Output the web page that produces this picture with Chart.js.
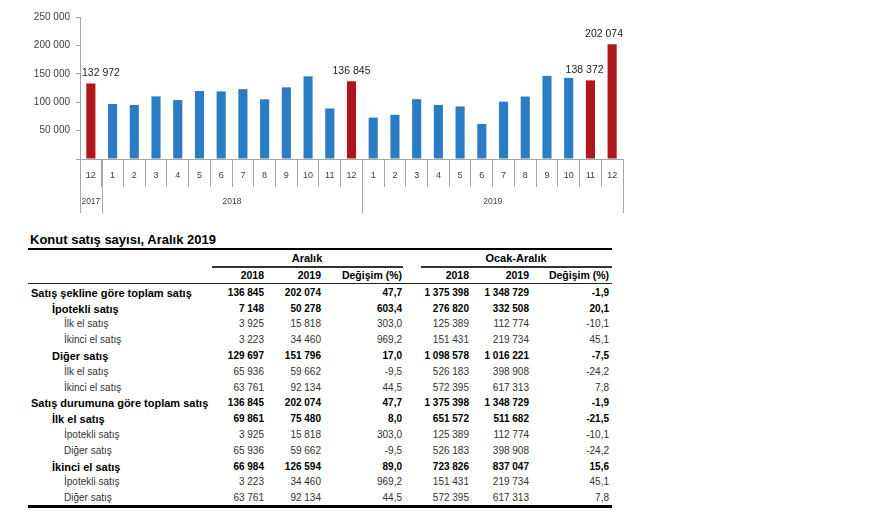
<!DOCTYPE html>
<html>
<head>
<meta charset="utf-8">
<script src="https://cdn.jsdelivr.net/npm/chart.js@4.4.1/dist/chart.umd.min.js"></script>
<style>
  html, body { margin: 0; padding: 0; background: #fff; }
  body { width: 880px; height: 520px; position: relative; overflow: hidden;
         font-family: "Liberation Sans", Arial, sans-serif; color: #000; }
  #chartBox { position: absolute; left: 0; top: 0; width: 640px; height: 222px; }
  .t { position: absolute; white-space: nowrap; line-height: 16px; height: 16px; }
  .r { text-align: right; width: 120px; }
  .c { text-align: center; width: 200px; }
  .b { font-weight: bold; }
  .rule { position: absolute; background: #000; }
</style>
</head>
<body>
<div id="chartBox"><canvas id="salesChart"></canvas></div>
<div id="table"></div>
<script>
// aylık konut satışları
const months = ["12", "1", "2", "3", "4", "5", "6", "7", "8", "9", "10", "11", "12",
                "1", "2", "3", "4", "5", "6", "7", "8", "9", "10", "11", "12"];
const sales = [132972, 96854, 95143, 110199, 103853, 119679, 119009, 122963, 105072, 126122, 145554, 88990, 136845,
               72937, 77849, 105394, 95223, 92571, 61630, 100999, 109935, 146366, 142883, 138372, 202074];
const highlighted = [0, 12, 23, 24];
const years = [
  { label: "2017", from: 0, to: 0 },
  { label: "2018", from: 1, to: 12 },
  { label: "2019", from: 13, to: 24 },
];
const yTicks = [0, 50000, 100000, 150000, 200000, 250000];

// tablo
const tableTitle = "Konut satış sayısı, Aralık 2019";
const groupHeaders = ["Aralık", "Ocak-Aralık"];
const colHeaders = ["2018", "2019", "Değişim (%)", "2018", "2019", "Değişim (%)"];
const tableRows = [
  ["Satış şekline göre toplam satış", 0, "136 845", "202 074", "47,7", "1 375 398", "1 348 729", "-1,9"],
  ["İpotekli satış", 1, "7 148", "50 278", "603,4", "276 820", "332 508", "20,1"],
  ["İlk el satış", 2, "3 925", "15 818", "303,0", "125 389", "112 774", "-10,1"],
  ["İkinci el satış", 2, "3 223", "34 460", "969,2", "151 431", "219 734", "45,1"],
  ["Diğer satış", 1, "129 697", "151 796", "17,0", "1 098 578", "1 016 221", "-7,5"],
  ["İlk el satış", 2, "65 936", "59 662", "-9,5", "526 183", "398 908", "-24,2"],
  ["İkinci el satış", 2, "63 761", "92 134", "44,5", "572 395", "617 313", "7,8"],
  ["Satış durumuna göre toplam satış", 0, "136 845", "202 074", "47,7", "1 375 398", "1 348 729", "-1,9"],
  ["İlk el satış", 1, "69 861", "75 480", "8,0", "651 572", "511 682", "-21,5"],
  ["İpotekli satış", 2, "3 925", "15 818", "303,0", "125 389", "112 774", "-10,1"],
  ["Diğer satış", 2, "65 936", "59 662", "-9,5", "526 183", "398 908", "-24,2"],
  ["İkinci el satış", 1, "66 984", "126 594", "89,0", "723 826", "837 047", "15,6"],
  ["İpotekli satış", 2, "3 223", "34 460", "969,2", "151 431", "219 734", "45,1"],
  ["Diğer satış", 2, "63 761", "92 134", "44,5", "572 395", "617 313", "7,8"],
];

const BLUE = "#2b7cc4";
const RED = "#b0171b";
const LINE = "#a6a6a6";
const FONT = "'Liberation Sans', Arial, sans-serif";

const fmt = v => String(v).replace(/\B(?=(\d{3})+(?!\d))/g, " ");

const axisExtras = {
  id: "axisExtras",
  afterDraw(chart) {
    const { ctx, chartArea } = chart;
    const xs = chart.scales.x;
    const bars = chart.getDatasetMeta(0).data;
    const half = (xs.getPixelForValue(1) - xs.getPixelForValue(0)) / 2;
    const base = chartArea.bottom;
    ctx.save();

    // değer etiketleri: kenarlara ve komşu yüksek çubuğa çarpmasın
    ctx.font = "10.5px " + FONT;
    ctx.fillStyle = "#222";
    ctx.textBaseline = "bottom";
    ctx.textAlign = "center";
    highlighted.forEach(i => {
      const txt = fmt(sales[i]);
      const w = ctx.measureText(txt).width;
      const yBottom = bars[i].y - 5;
      let x = bars[i].x;
      if (x - w / 2 < chartArea.left + 2) x = chartArea.left + 2 + w / 2;
      if (x + w / 2 > chartArea.right) x = chartArea.right - w / 2;
      const next = bars[i + 1];
      if (next && next.y < yBottom && x + w / 2 > next.x - next.width / 2 - 4) {
        x = next.x - next.width / 2 - 4 - w / 2;
      }
      ctx.fillText(txt, x, yBottom);
    });

    // ay etiketleri
    ctx.font = "9px " + FONT;
    ctx.fillStyle = "#404040";
    ctx.textBaseline = "middle";
    months.forEach((m, i) => ctx.fillText(m, xs.getPixelForValue(i), base + 17));

    // yıl ayraçları ve etiketleri
    ctx.strokeStyle = LINE;
    ctx.lineWidth = 1;
    ctx.font = "8.5px " + FONT;
    years.forEach((y, k) => {
      const x0 = Math.round(xs.getPixelForValue(y.from) - half) + 0.5;
      const x1 = Math.round(xs.getPixelForValue(y.to) + half) + 0.5;
      ctx.beginPath();
      ctx.moveTo(x0, base); ctx.lineTo(x0, base + 54);
      if (k === years.length - 1) { ctx.moveTo(x1, base); ctx.lineTo(x1, base + 54); }
      ctx.stroke();
      const cx = (xs.getPixelForValue(y.from) + xs.getPixelForValue(y.to)) / 2;
      ctx.fillText(y.label, cx, base + 43);
    });
    ctx.restore();
  }
};

new Chart(document.getElementById("salesChart"), {
  type: "bar",
  data: {
    labels: months,
    datasets: [{
      data: sales,
      backgroundColor: sales.map((v, i) => highlighted.includes(i) ? RED : BLUE),
      barPercentage: 0.42,
      categoryPercentage: 1,
    }],
  },
  options: {
    responsive: true,
    maintainAspectRatio: false,
    animation: false,
    layout: { padding: { top: 17, right: 17, left: 0, bottom: 0 } },
    plugins: { legend: { display: false }, tooltip: { enabled: false } },
    scales: {
      x: {
        offset: true,
        grid: { offset: true, drawOnChartArea: false, tickLength: 28, color: LINE },
        border: { color: LINE },
        ticks: { display: false },
        afterFit: s => { s.height = 63; },
      },
      y: {
        min: 0,
        max: 250000,
        afterBuildTicks: s => { s.ticks = yTicks.map(v => ({ value: v })); },
        ticks: {
          padding: 6,
          color: "#404040",
          font: { size: 10, family: FONT },
          callback: v => v === 0 ? "" : fmt(v),
        },
        grid: { drawOnChartArea: false, tickLength: 4, color: LINE },
        border: { color: LINE },
        afterFit: s => { s.width = 80; },
      },
    },
  },
  plugins: [axisExtras],
});

// tabloyu çiz
const box = document.getElementById("table");
const colRight = [264, 321, 402, 469, 529, 609];
const indent = [31, 52, 64];
function cell(text, cls, left, top, style) {
  const d = document.createElement("div");
  d.className = "t " + cls;
  d.textContent = text;
  d.style.left = left + "px";
  d.style.top = top + "px";
  Object.assign(d.style, style || {});
  box.appendChild(d);
}
function rule(x, y, w, h, color) {
  const d = document.createElement("div");
  d.className = "rule";
  Object.assign(d.style, { left: x + "px", top: y + "px", width: w + "px", height: h + "px", background: color || "#000" });
  box.appendChild(d);
}

cell(tableTitle, "b", 30, 232, { fontSize: "13px" });
rule(28, 248, 584, 2);
cell(groupHeaders[0], "c b", 307 - 100, 250, { fontSize: "11px" });
cell(groupHeaders[1], "c b", 516 - 100, 250, { fontSize: "11px" });
rule(212, 266, 191, 1.5, "#333");
rule(421, 266, 191, 1.5, "#333");
colHeaders.forEach((h, i) => cell(h, "r b", colRight[i] - 120, 267, { fontSize: "10.5px" }));
rule(28, 283, 584, 1, "#222");

tableRows.forEach((row, r) => {
  const top = 292.7 + r * 15.8 - 8;
  const bold = row[1] < 2;
  cell(row[0], bold ? "b" : "", indent[row[1]], top,
       { fontSize: bold ? "11px" : "10px", color: bold ? "#000" : "#333" });
  row.slice(2).forEach((v, i) => cell(v, "r" + (bold ? " b" : ""), colRight[i] - 120, top,
       { fontSize: "10px", color: bold ? "#000" : "#333" }));
});
rule(28, 505, 584, 2.5);
</script>
</body>
</html>
